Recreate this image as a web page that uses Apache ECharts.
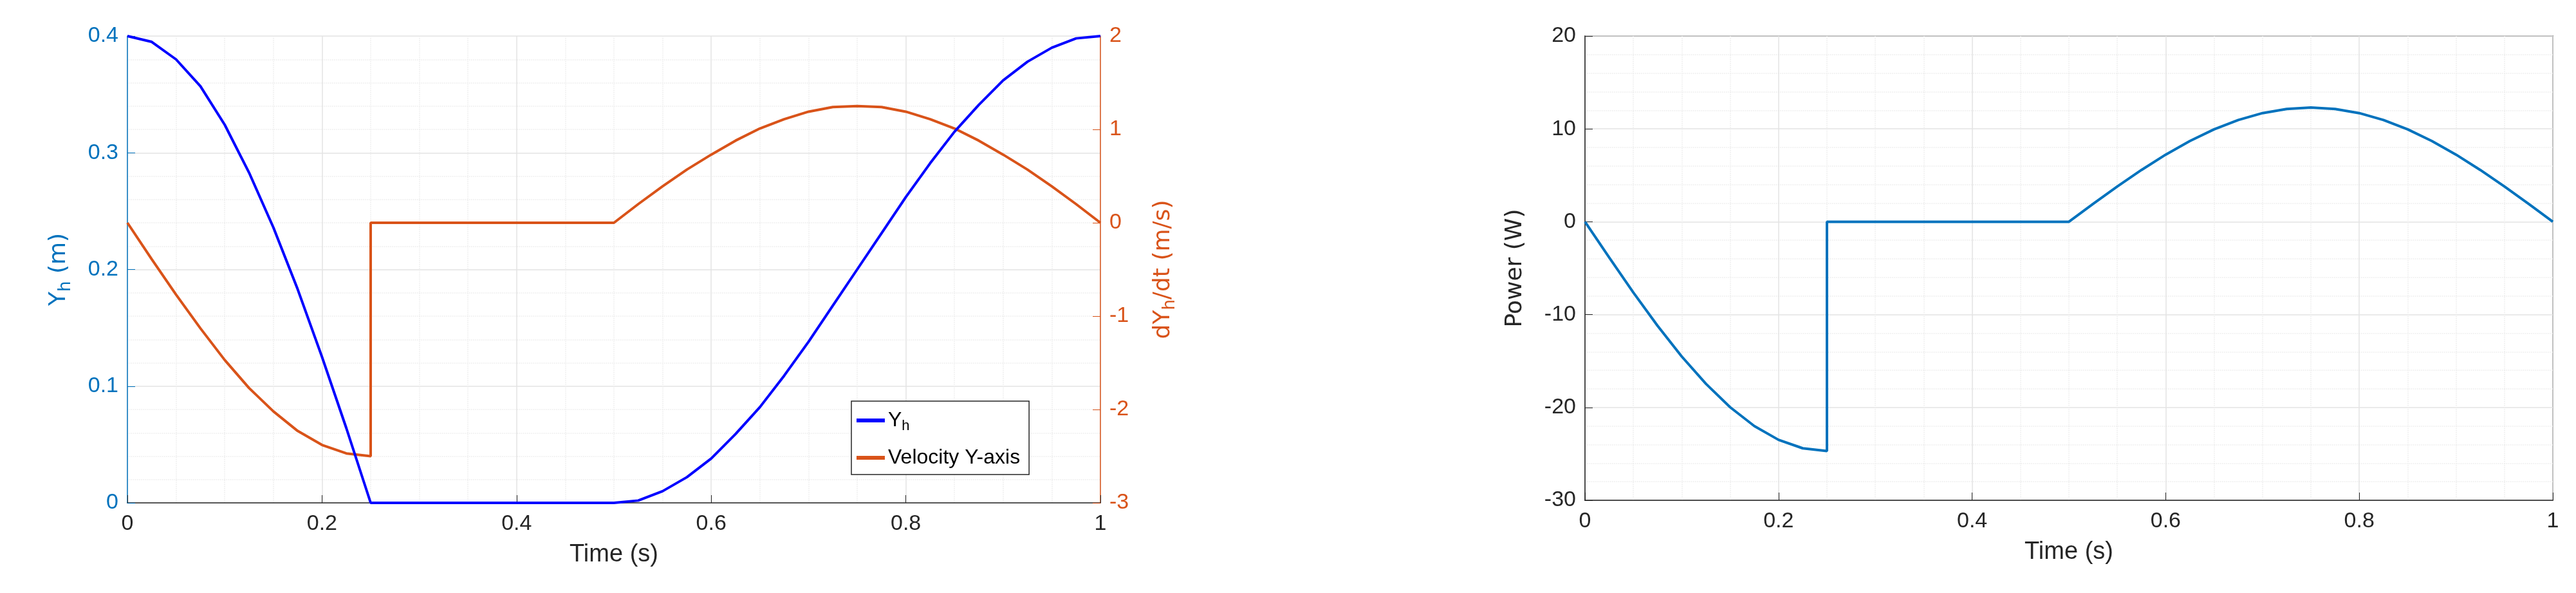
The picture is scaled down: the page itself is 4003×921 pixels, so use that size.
<!DOCTYPE html>
<html>
<head>
<meta charset="utf-8">
<script src="https://cdn.jsdelivr.net/npm/echarts@6/dist/echarts.min.js"></script>
<style>html,body{margin:0;padding:0;background:#fff}#c{width:4003px;height:921px}</style>
</head>
<body>
<div id="c"></div>
<script>
// samples, every 0.025 s
const t = [0,0.025,0.05,0.075,0.1,0.125,0.15,0.175,0.2,0.225,0.25,
  0.275,0.3,0.325,0.35,0.375,0.4,0.425,0.45,0.475,0.5,
  0.525,0.55,0.575,0.6,0.625,0.65,0.675,0.7,0.725,0.75,
  0.775,0.8,0.825,0.85,0.875,0.9,0.925,0.95,0.975,1]
const yh = [0.4,0.395,0.38,0.357,0.324,0.283,0.236,0.183,0.125,0.064,0,
  0,0,0,0,0,0,0,0,0,0,
  0.002,0.01,0.022,0.038,0.059,0.082,0.109,0.138,0.169,0.2,
  0.231,0.262,0.291,0.318,0.341,0.362,0.378,0.39,0.398,0.4]
const vel = [0,-0.39,-0.77,-1.13,-1.47,-1.77,-2.02,-2.23,-2.38,-2.47,-2.5,
  0,0,0,0,0,0,0,0,0,0,
  0.2,0.39,0.57,0.73,0.88,1.01,1.11,1.19,1.24,1.25,
  1.24,1.19,1.11,1.01,0.88,0.73,0.57,0.39,0.2,0]
const power = [0,-3.85,-7.63,-11.21,-14.52,-17.46,-19.98,-22.01,-23.49,-24.4,-24.7,
  0,0,0,0,0,0,0,0,0,0,
  1.92,3.8,5.58,7.23,8.7,9.95,10.96,11.7,12.15,12.3,
  12.15,11.7,10.96,9.95,8.7,7.23,5.58,3.8,1.92,0]

// vertical jump at t=0.25: add the value after the jump at the same t
function pairs(ys) {
  const out = []
  t.forEach((x, i) => {
    out.push([x, ys[i]])
    if (i === 10) out.push([x, ys[i + 1]])
  })
  return out
}

const font = 'Liberation Sans Narrow, Liberation Sans, Arial, sans-serif'
const tickLbl = { fontFamily: font, fontSize: 34, color: '#262626' }
const minorSplit = { show: true, lineStyle: { color: '#ececec', type: 'dotted', width: 1.5 } }
const majorSplit = { show: true, lineStyle: { color: '#e3e3e3', type: 'solid', width: 1.5 } }
const minorT = n => ({ show: true, splitNumber: n, length: 0 })

function xAx(gi) {
  return {
    type: 'value', gridIndex: gi, min: 0, max: 1, interval: 0.2,
    name: 'Time (s)', nameLocation: 'middle', nameGap: 62,
    nameTextStyle: { fontFamily: font, fontSize: 38, color: '#262626' },
    axisLabel: { ...tickLbl, margin: 16, formatter: v => String(+v.toFixed(1)) },
    axisLine: { onZero: false, lineStyle: { color: '#262626', width: 1.5 } },
    axisTick: { inside: true, length: 12, lineStyle: { color: '#262626' } },
    minorTick: minorT(4),
    splitLine: majorSplit, minorSplitLine: minorSplit
  }
}

const chart = echarts.init(document.getElementById('c'))
chart.setOption({
  animation: false,
  grid: [
    { left: 198, right: 2293, top: 56, bottom: 140 },
    { left: 2463, right: 36, top: 56, bottom: 144, show: true, borderColor: '#262626', borderWidth: 1.5 }
  ],
  legend: {
    left: 1323, top: 623, orient: 'vertical', itemWidth: 44, itemHeight: 6, itemGap: 22,
    backgroundColor: '#fff', borderColor: '#262626', borderWidth: 1.5, padding: [14, 14, 10, 8],
    icon: 'rect',
    textStyle: { fontFamily: font, fontSize: 32, color: '#000', rich: { s: { fontSize: 22, verticalAlign: 'bottom', padding: [18, 0, 0, 0] } } },
    formatter: n => n === 'Yh' ? 'Y{s|h}' : n,
    data: ['Yh', 'Velocity Y-axis']
  },
  xAxis: [xAx(0), xAx(1)],
  yAxis: [
    {
      type: 'value', gridIndex: 0, min: 0, max: 0.4, interval: 0.1,
      name: 'Y{s|h} (m)', nameLocation: 'middle', nameGap: 88, nameRotate: 90,
      nameTextStyle: { fontFamily: 'DejaVu Sans', fontSize: 36, color: '#0072bd', rich: { s: { fontSize: 26, color: '#0072bd', padding: [0, 0, -20, 0] } } },
      axisLabel: { ...tickLbl, color: '#0072bd', margin: 14 },
      axisLine: { show: true, lineStyle: { color: '#0072bd', width: 1.5 } },
      axisTick: { show: true, inside: true, length: 12, lineStyle: { color: '#0072bd' } },
      minorTick: minorT(5),
      splitLine: majorSplit, minorSplitLine: minorSplit
    },
    {
      type: 'value', gridIndex: 0, position: 'right', min: -3, max: 2, interval: 1,
      name: 'dY{s|h}/dt (m/s)', nameLocation: 'middle', nameGap: 80, nameRotate: 90,
      nameTextStyle: { fontFamily: 'DejaVu Sans', fontSize: 36, color: '#d95319', rich: { s: { fontSize: 26, color: '#d95319', padding: [0, 0, -20, 0] } } },
      axisLabel: { ...tickLbl, color: '#d95319', margin: 14 },
      axisLine: { show: true, lineStyle: { color: '#d95319', width: 1.5 } },
      axisTick: { show: true, inside: true, length: 12, lineStyle: { color: '#d95319' } },
      splitLine: { show: false }
    },
    {
      type: 'value', gridIndex: 1, min: -30, max: 20, interval: 10,
      name: 'Power (W)', nameLocation: 'middle', nameGap: 90, nameRotate: 90,
      nameTextStyle: { fontFamily: 'DejaVu Sans', fontSize: 36, color: '#262626' },
      axisLabel: { ...tickLbl, margin: 14 },
      axisLine: { show: true, lineStyle: { color: '#262626', width: 1.5 } },
      axisTick: { show: true, inside: true, length: 12, lineStyle: { color: '#262626' } },
      minorTick: minorT(5),
      splitLine: majorSplit, minorSplitLine: minorSplit
    }
  ],
  series: [
    { name: 'Yh', type: 'line', xAxisIndex: 0, yAxisIndex: 0, data: pairs(yh), showSymbol: false, color: '#0000ff', lineStyle: { width: 4 }, z: 3 },
    { name: 'Velocity Y-axis', type: 'line', xAxisIndex: 0, yAxisIndex: 1, data: pairs(vel), showSymbol: false, color: '#d95319', lineStyle: { width: 4 }, z: 2 },
    { name: 'Power', type: 'line', xAxisIndex: 1, yAxisIndex: 2, data: pairs(power), showSymbol: false, color: '#0072bd', lineStyle: { width: 4 } }
  ]
})
</script>
</body>
</html>
